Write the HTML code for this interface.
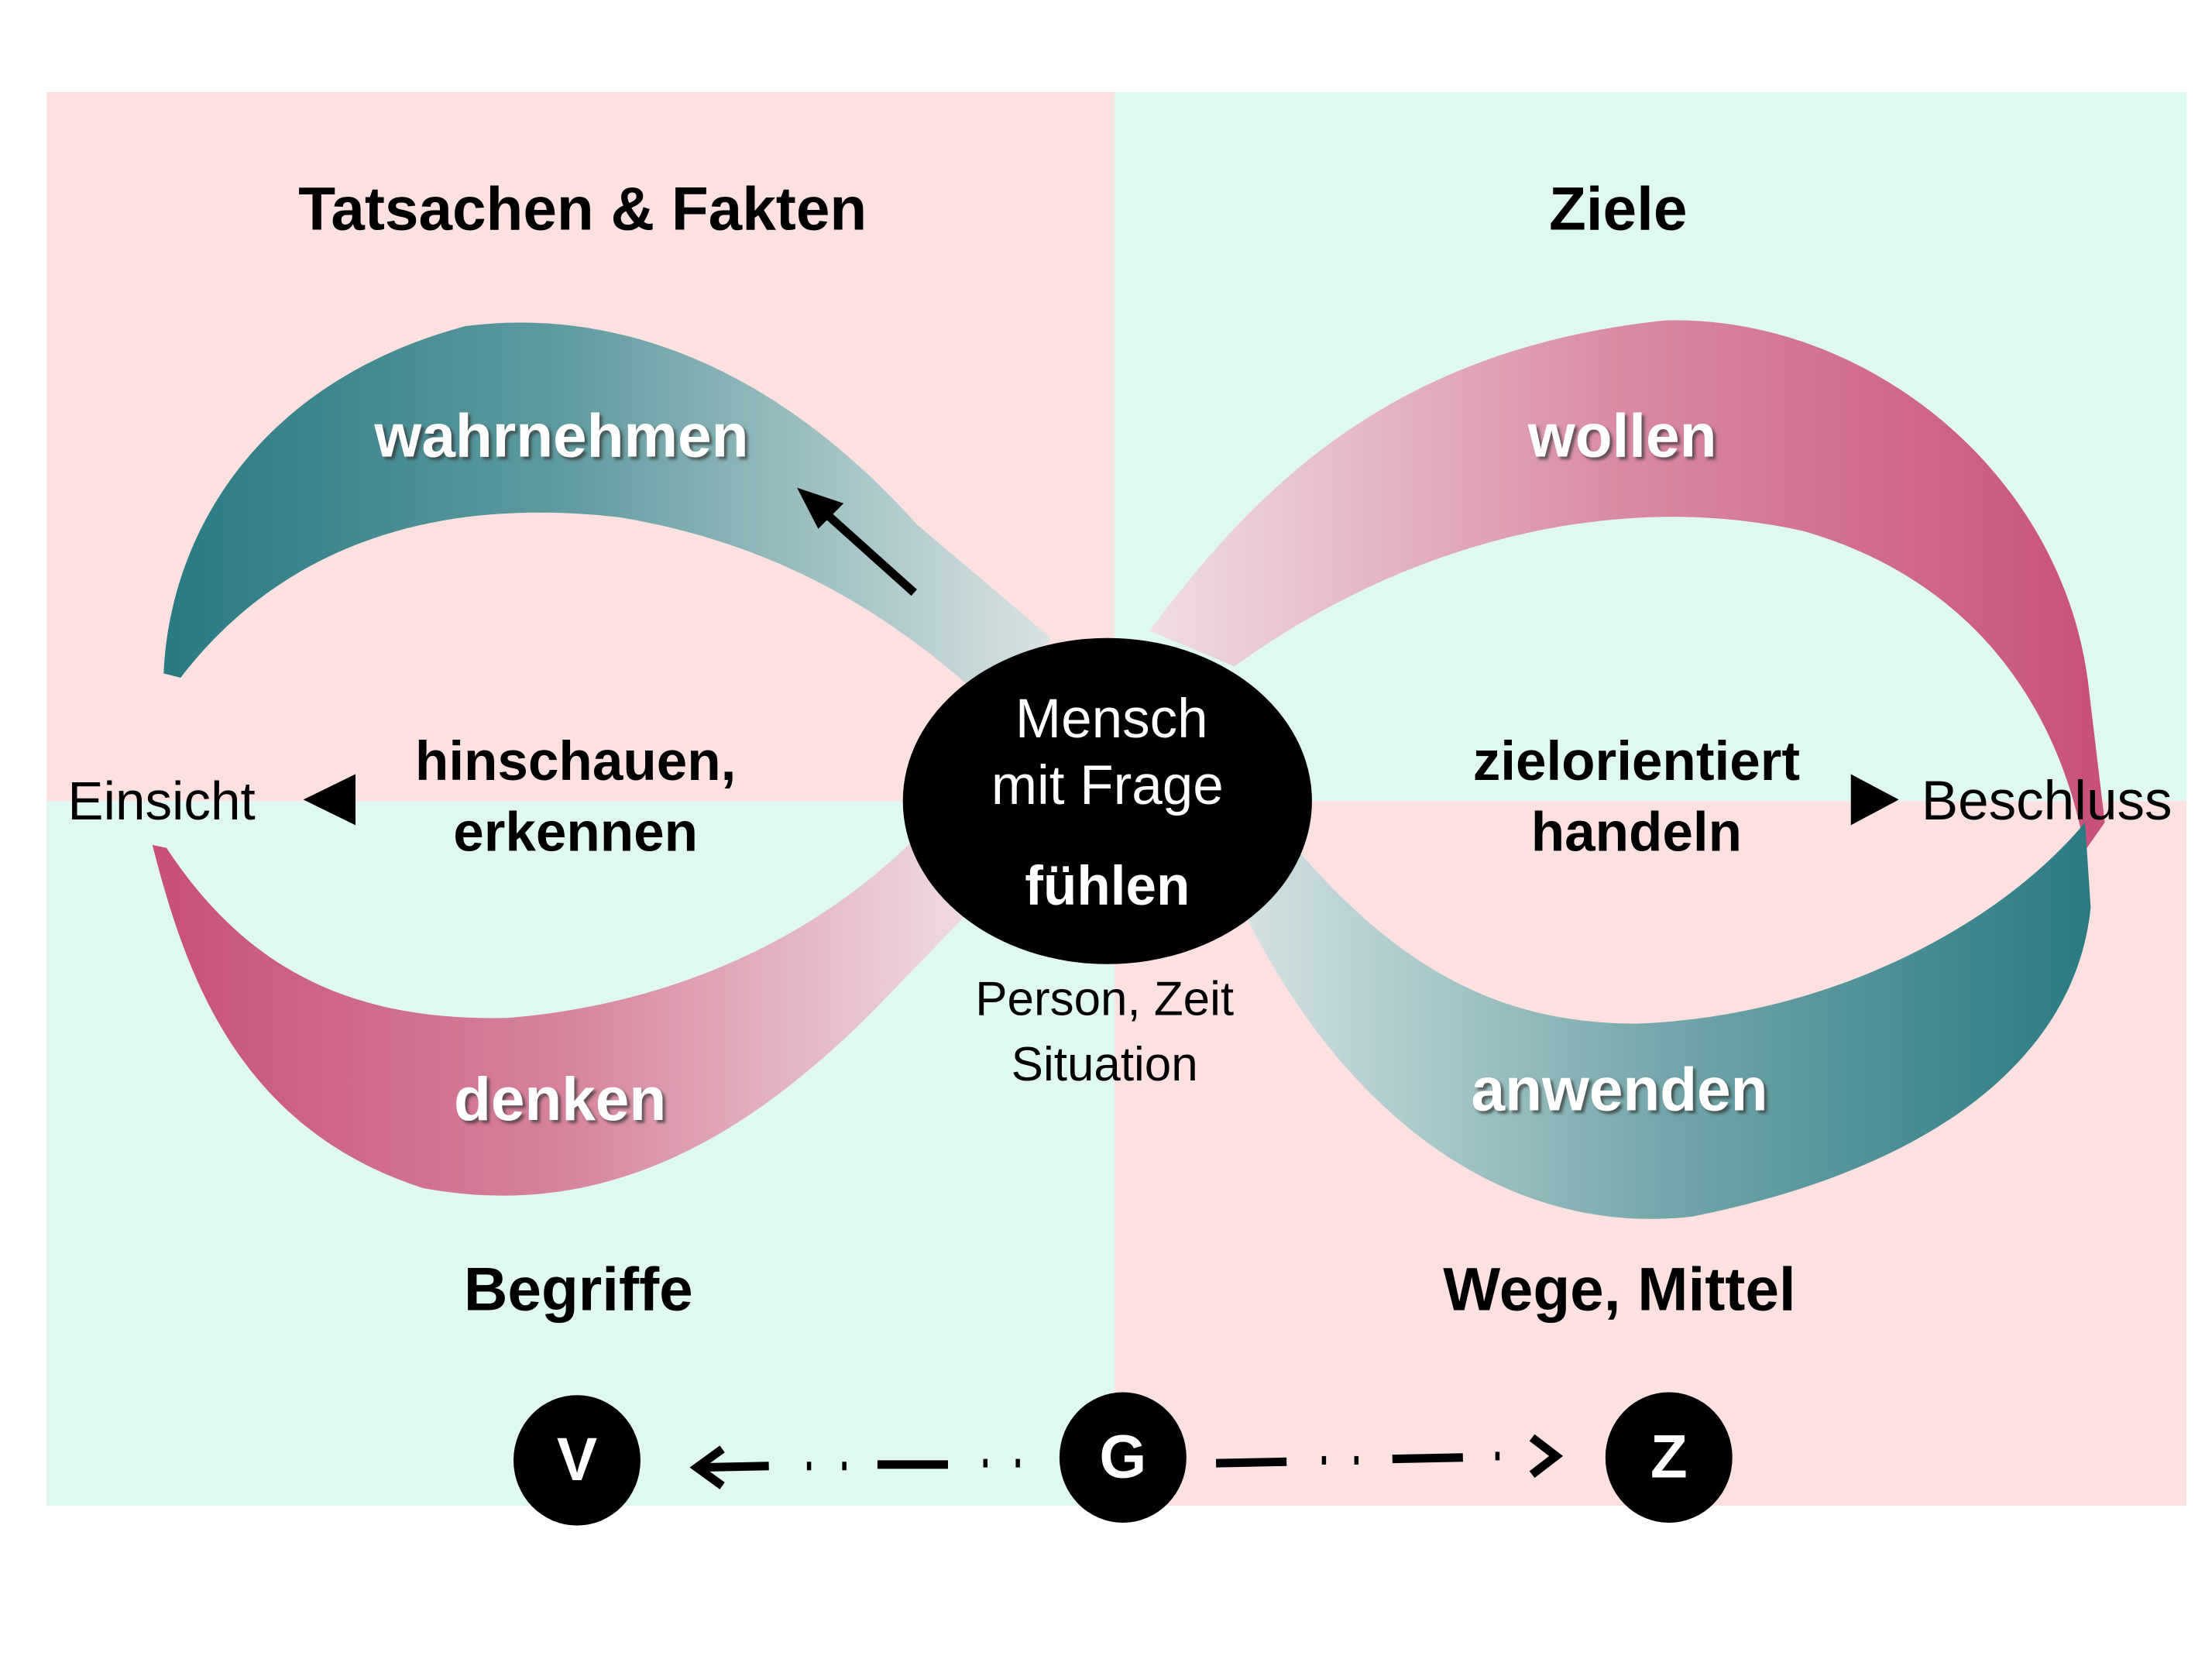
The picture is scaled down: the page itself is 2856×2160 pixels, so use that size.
<!DOCTYPE html>
<html><head><meta charset="utf-8"><style>
html,body{margin:0;padding:0;background:#fff}
svg{display:block}
text{font-family:"Liberation Sans",Arial,sans-serif}
.w{fill:#fff;font-weight:bold;font-size:43px;text-anchor:middle}
.b{fill:#000;font-weight:bold;text-anchor:middle}
</style></head><body>
<svg width="2856" height="2160" viewBox="0 0 1568 1180" preserveAspectRatio="none" xmlns="http://www.w3.org/2000/svg">
<defs>
<linearGradient id="gTL" x1="120" y1="0" x2="745" y2="0" gradientUnits="userSpaceOnUse">
<stop offset="0" stop-color="#2a7a82"/><stop offset="0.45" stop-color="#5f9ba0"/><stop offset="1" stop-color="#d9e2e2"/></linearGradient>
<linearGradient id="gBL" x1="115" y1="0" x2="690" y2="0" gradientUnits="userSpaceOnUse">
<stop offset="0" stop-color="#c8507a"/><stop offset="0.5" stop-color="#d6849c"/><stop offset="1" stop-color="#efdde2"/></linearGradient>
<linearGradient id="gTR" x1="815" y1="0" x2="1490" y2="0" gradientUnits="userSpaceOnUse">
<stop offset="0" stop-color="#efdde2"/><stop offset="0.5" stop-color="#d98aa2"/><stop offset="1" stop-color="#c8507a"/></linearGradient>
<linearGradient id="gBR" x1="880" y1="0" x2="1485" y2="0" gradientUnits="userSpaceOnUse">
<stop offset="0" stop-color="#d4e2e2"/><stop offset="0.5" stop-color="#72a6aa"/><stop offset="1" stop-color="#2a7a82"/></linearGradient>
<filter id="sh" x="-10%" y="-10%" width="120%" height="130%"><feDropShadow dx="2" dy="2" stdDeviation="1" flood-color="#333" flood-opacity="0.7"/></filter>
</defs>
<rect x="33" y="65" width="757" height="500" fill="#fde0e0"/>
<rect x="790" y="65" width="760" height="500" fill="#e0f8f2"/>
<rect x="33" y="565" width="757" height="497" fill="#e0f8f2"/>
<rect x="790" y="565" width="760" height="497" fill="#fde0e0"/>

<path d="M116,475 C120,380 180,270 330,230 C450,215 560,270 650,370 L745,450 L705,500 C640,440 560,385 440,365 C330,352 210,372 128,478 Z" fill="url(#gTL)"/>
<path d="M108,596 C130,680 165,795 300,838 C420,860 520,812 620,712 L690,640 L650,590 C580,660 480,708 360,718 C260,720 180,692 118,598 Z" fill="url(#gBL)"/>
<path d="M815,445 C900,330 1000,245 1180,226 C1320,222 1460,330 1480,480 L1492,580 L1478,600 C1460,500 1400,410 1280,375 C1150,345 1000,380 875,470 Z" fill="url(#gTR)"/>
<path d="M880,640 L920,600 C990,680 1060,722 1160,722 C1300,717 1420,650 1478,580 L1482,640 C1472,740 1380,822 1200,858 C1080,872 960,802 880,640 Z" fill="url(#gBR)"/>

<text x="413" y="162" class="b" font-size="43">Tatsachen &amp; Fakten</text>
<text x="1147" y="162" class="b" font-size="43">Ziele</text>
<text x="398" y="322" class="w" filter="url(#sh)">wahrnehmen</text>
<text x="1150" y="322" class="w" filter="url(#sh)">wollen</text>
<text x="397" y="790" class="w" filter="url(#sh)">denken</text>
<text x="1148" y="783" class="w" filter="url(#sh)">anwenden</text>

<text x="408" y="550" class="b" font-size="39">hinschauen,</text>
<text x="408" y="600" class="b" font-size="39">erkennen</text>
<text x="1160" y="550" class="b" font-size="39">zielorientiert</text>
<text x="1160" y="600" class="b" font-size="39">handeln</text>
<text x="48" y="578" font-size="38" fill="#000">Einsicht</text>
<polygon points="215,564 252,546 252,582" fill="#000"/>
<polygon points="1346,564 1312,546 1312,582" fill="#000"/>
<text x="1362" y="578" font-size="39" fill="#000">Beschluss</text>

<line x1="648" y1="418" x2="583" y2="360" stroke="#000" stroke-width="6"/>
<polygon points="565,344 598,355 580,373" fill="#000"/>

<ellipse cx="785" cy="565" rx="145" ry="115" fill="#000"/>
<text x="788" y="520" font-size="39" fill="#fff" text-anchor="middle">Mensch</text>
<text x="785" y="567" font-size="39" fill="#fff" text-anchor="middle">mit Frage</text>
<text x="785" y="638" font-size="39" fill="#fff" font-weight="bold" text-anchor="middle">fühlen</text>
<text x="783" y="716" font-size="34" fill="#000" text-anchor="middle">Person, Zeit</text>
<text x="783" y="762" font-size="34" fill="#000" text-anchor="middle">Situation</text>

<text x="410" y="924" class="b" font-size="43">Begriffe</text>
<text x="1148" y="924" class="b" font-size="43">Wege, Mittel</text>

<ellipse cx="409" cy="1030" rx="45" ry="46" fill="#000"/>
<ellipse cx="796" cy="1028" rx="45" ry="46" fill="#000"/>
<ellipse cx="1183" cy="1028" rx="45" ry="46" fill="#000"/>
<text x="409" y="1044" class="w" style="fill:#fff">V</text>
<text x="796" y="1042" class="w" style="fill:#fff">G</text>
<text x="1183" y="1042" class="w" style="fill:#fff">Z</text>
<g stroke="#000" stroke-width="6" fill="none">
<polyline points="512,1022 494,1035 512,1048"/>
<line x1="496" y1="1035" x2="545" y2="1034"/>
<line x1="572" y1="1034" x2="575" y2="1034"/>
<line x1="597" y1="1034" x2="600" y2="1034"/>
<line x1="622" y1="1033" x2="672" y2="1033"/>
<line x1="697" y1="1032" x2="700" y2="1032"/>
<line x1="720" y1="1032" x2="723" y2="1032"/>
<line x1="862" y1="1032" x2="912" y2="1031"/>
<line x1="937" y1="1030" x2="940" y2="1030"/>
<line x1="960" y1="1030" x2="963" y2="1030"/>
<line x1="987" y1="1029" x2="1037" y2="1028"/>
<line x1="1060" y1="1027" x2="1063" y2="1027"/>
<polyline points="1086,1014 1103,1027 1086,1040"/>
</g>
</svg>
</body></html>
